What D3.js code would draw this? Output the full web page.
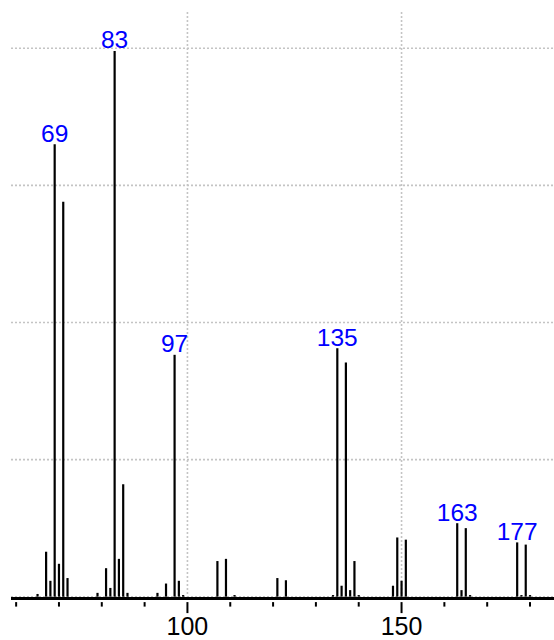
<!DOCTYPE html>
<html>
<head>
<meta charset="utf-8">
<script src="https://cdn.jsdelivr.net/npm/d3@7"></script>
<style>
  html, body { margin: 0; padding: 0; background: #fff; }
  svg { display: block; }
  text { font-family: "Liberation Sans", Arial, sans-serif; }
</style>
</head>
<body>
<svg id="chart" width="554" height="640"></svg>
<script>
// m/z values of the peaks
const mz = [65, 67, 68, 69, 70, 71, 72, 79, 81, 82, 83, 84, 85, 86, 93, 95, 97, 98, 99,
            107, 109, 111, 121, 123, 134, 135, 136, 137, 138, 139, 140,
            148, 149, 150, 151, 163, 164, 165, 166, 177, 178, 179, 180];
// relative intensities (%)
const intensity = [0.5, 8.2, 2.9, 82.5, 6.0, 72.0, 3.4, 0.7, 5.2, 1.6, 99.5, 6.9, 20.5, 0.7, 0.7, 2.4, 44.1, 2.9, 0.3,
                   6.5, 6.9, 0.3, 3.4, 3.0, 0.3, 45.3, 2.0, 42.7, 1.2, 6.5, 0.3,
                   2.0, 10.8, 2.9, 10.4, 13.4, 1.2, 12.5, 0.3, 9.9, 0.3, 9.5, 0.3];
// labelled peaks
const labelled = [69, 83, 97, 135, 163, 177];
// axis ticks
const minorTicks = [60, 70, 80, 90, 100, 110, 120, 130, 140, 150, 160, 170, 180];
const majorTicks = [100, 150];
const yGrid = [0, 25, 50, 75, 100];

const data = mz.map((m, i) => ({ m: m, v: intensity[i] }));

const svg = d3.select("#chart");
const x = d3.scaleLinear().domain([58.8, 185.6]).range([11, 554]);
const y = d3.scaleLinear().domain([0, 106.6]).range([596.7, 12]);

const gridColor = "#c4c4c4";
// horizontal grid
svg.append("g").selectAll("line").data(yGrid).join("line")
  .attr("x1", x.range()[0]).attr("x2", x.range()[1])
  .attr("y1", d => y(d)).attr("y2", d => y(d))
  .attr("stroke", gridColor).attr("stroke-width", 1.6)
  .attr("stroke-dasharray", "2,2");
// vertical grid
svg.append("g").selectAll("line").data(majorTicks).join("line")
  .attr("x1", d => x(d)).attr("x2", d => x(d))
  .attr("y1", y.range()[1]).attr("y2", y(0))
  .attr("stroke", gridColor).attr("stroke-width", 1.6)
  .attr("stroke-dasharray", "2,2");

// peaks
svg.append("g").selectAll("line").data(data).join("line")
  .attr("x1", d => x(d.m)).attr("x2", d => x(d.m))
  .attr("y1", y(0)).attr("y2", d => y(d.v))
  .attr("stroke", "#000").attr("stroke-width", 2.2);

// peak labels
svg.append("g").selectAll("text").data(data.filter(d => labelled.includes(d.m))).join("text")
  .attr("x", d => x(d.m)).attr("y", d => y(d.v) - 2.5)
  .attr("text-anchor", "middle")
  .attr("font-size", 24.5)
  .attr("fill", "#0000ff")
  .text(d => d.m);

// x axis
const axisY = 598.6;
svg.append("line")
  .attr("x1", x.range()[0]).attr("x2", x.range()[1])
  .attr("y1", axisY).attr("y2", axisY)
  .attr("stroke", "#000").attr("stroke-width", 3);

svg.append("g").selectAll("line").data(minorTicks.filter(t => !majorTicks.includes(t))).join("line")
  .attr("x1", d => x(d)).attr("x2", d => x(d))
  .attr("y1", axisY + 3.5).attr("y2", axisY + 8)
  .attr("stroke", "#000").attr("stroke-width", 2);

svg.append("g").selectAll("line").data(majorTicks).join("line")
  .attr("x1", d => x(d)).attr("x2", d => x(d))
  .attr("y1", axisY + 3.5).attr("y2", axisY + 14.5)
  .attr("stroke", "#000").attr("stroke-width", 2);

svg.append("g").selectAll("text").data(majorTicks).join("text")
  .attr("x", d => x(d)).attr("y", 635)
  .attr("text-anchor", "middle")
  .attr("font-size", 25)
  .attr("fill", "#000")
  .text(d => d);
</script>
</body>
</html>
